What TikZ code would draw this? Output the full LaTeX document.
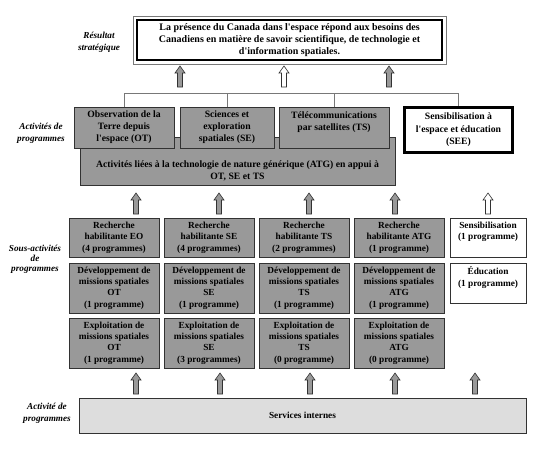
\documentclass[tikz,border=0pt]{standalone}
\usepackage{fontspec}
\setmainfont{Liberation Serif}[Ligatures=TeXOff]
\definecolor{boxgray}{RGB}{153,153,153}
\definecolor{lightbox}{RGB}{221,221,221}
\definecolor{edge}{RGB}{50,50,50}
\definecolor{linegray}{RGB}{120,120,120}
\begin{document}
\begin{tikzpicture}[x=1pt,y=-1pt,
  txt/.style={font=\bfseries\fontsize{9.3}{11.4}\selectfont, align=center},
  txtl/.style={font=\bfseries\fontsize{9.7}{12}\selectfont, align=center},
  gbox/.style={draw=edge, line width=0.7pt, fill=boxgray, inner sep=0pt, txt},
  wbox/.style={draw=edge, line width=0.7pt, fill=white, inner sep=0pt, txt},
  side/.style={font=\bfseries\itshape\fontsize{9.2}{12}\selectfont, align=center, inner sep=0pt},
  conn/.style={draw=linegray, line width=0.7pt},
  garrow/.style={draw=edge, fill=boxgray, line width=0.6pt},
  warrow/.style={draw=edge, fill=white, line width=0.6pt},
  uparrow/.pic={\path[pic actions] (-2.5,0) -- (-2.5,-14) -- (-5,-14) -- (0,-21) -- (5,-14) -- (2.5,-14) -- (2.5,0) -- cycle;}
]
\useasboundingbox (0,0) rectangle (537,456);

% ---- left-hand labels
\node[side] (lres) at (99,42) {Résultat\\stratégique};
\node[side] (lact) at (41,133) {Activités de\\programmes};
\node[side, font=\bfseries\itshape\fontsize{9.2}{9.8}\selectfont] (lsous) at (35,259) {Sous-activités\\de\\programmes};
\node[side] (lint) at (47,413) {Activité de\\programmes};

% ---- strategic outcome
\node[draw=black, line width=2pt, fill=white, minimum width=305pt, minimum height=40pt, inner sep=0pt, font=\bfseries\fontsize{10}{12}\selectfont, align=center] (top) at (289.5,40)
  {La présence du Canada dans l'espace répond aux besoins des\\Canadiens en matière de savoir scientifique, de technologie et\\d'information spatiales.};
\draw[linegray, line width=0.6pt] ([shift={(-3,3)}]top.south west) rectangle ([shift={(3,-3)}]top.north east);

% ---- arrows to outcome
\pic[garrow] at (180,87) {uparrow};
\pic[warrow] at (284,87) {uparrow};
\pic[garrow] at (389,87) {uparrow};

% ---- program activities
\node[gbox, minimum width=315pt, minimum height=48pt, label={[txtl, yshift=-10pt]center:Activités liées à la technologie de nature générique (ATG) en appui à\\OT, SE et TS}] (ATG) at (237.5,161) {};
\node[gbox, txtl, minimum width=100pt, minimum height=41pt] (OT) at (124,127.5) {Observation de la\\Terre depuis\\l'espace (OT)};
\node[gbox, txtl, minimum width=94pt, minimum height=41pt] (SE) at (227,127.5) {Sciences et\\exploration\\spatiales (SE)};
\node[gbox, minimum width=110pt, minimum height=41pt, label={[txtl, yshift=5.5pt]center:Télécommunications\\par satellites (TS)}] (TS) at (334,127.5) {};
\node[draw=black, line width=3pt, fill=white, minimum width=108pt, minimum height=45pt, inner sep=0pt, txtl, font=\bfseries\fontsize{9.7}{12.4}\selectfont] (SEE) at (458.5,130) {Sensibilisation à\\l'espace et éducation\\(SEE)};

\coordinate (bus) at (0,93);
\draw[conn] (OT.north) -- (OT.north |- bus) -- (SEE.north |- bus) -- (SEE.north);
\draw[conn] (SE.north) -- (SE.north |- bus);
\draw[conn] (TS.north) -- (TS.north |- bus);

% ---- arrows to program activities
\pic[garrow] at (136,214) {uparrow};
\pic[garrow] at (219,214) {uparrow};
\pic[garrow] at (309,214) {uparrow};
\pic[garrow] at (395,214) {uparrow};
\pic[warrow] at (488,214) {uparrow};

% ---- sub-activities, row 1
\node[gbox, minimum width=90pt, minimum height=39pt] (r1c1) at (114,237.5) {Recherche\\habilitante EO\\(4 programmes)};
\node[gbox, minimum width=90pt, minimum height=39pt] (r1c2) at (209,237.5) {Recherche\\habilitante SE\\(4 programmes)};
\node[gbox, minimum width=90pt, minimum height=39pt] (r1c3) at (304,237.5) {Recherche\\habilitante TS\\(2 programmes)};
\node[gbox, minimum width=90pt, minimum height=39pt] (r1c4) at (399,237.5) {Recherche\\habilitante ATG\\(1 programme)};
\node[wbox, minimum width=76pt, minimum height=39pt, label={[txt, yshift=5.5pt]center:Sensibilisation\\(1 programme)}] (r1w) at (488,237.5) {};

% ---- row 2
\node[gbox, minimum width=90pt, minimum height=50pt] (r2c1) at (114,288) {Développement de\\missions spatiales\\OT\\(1 programme)};
\node[gbox, minimum width=90pt, minimum height=50pt] (r2c2) at (209,288) {Développement de\\missions spatiales\\SE\\(1 programme)};
\node[gbox, minimum width=90pt, minimum height=50pt] (r2c3) at (304,288) {Développement de\\missions spatiales\\TS\\(1 programme)};
\node[gbox, minimum width=90pt, minimum height=50pt] (r2c4) at (399,288) {Développement de\\missions spatiales\\ATG\\(1 programme)};
\node[wbox, minimum width=76pt, minimum height=40pt, label={[txt, yshift=5.5pt]center:Éducation\\(1 programme)}] (r2w) at (488,283) {};

% ---- row 3
\node[gbox, minimum width=90pt, minimum height=50pt] (r3c1) at (114,343) {Exploitation de\\missions spatiales\\OT\\(1 programme)};
\node[gbox, minimum width=90pt, minimum height=50pt] (r3c2) at (209,343) {Exploitation de\\missions spatiales\\SE\\(3 programmes)};
\node[gbox, minimum width=90pt, minimum height=50pt] (r3c3) at (304,343) {Exploitation de\\missions spatiales\\TS\\(0 programme)};
\node[gbox, minimum width=90pt, minimum height=50pt] (r3c4) at (399,343) {Exploitation de\\missions spatiales\\ATG\\(0 programme)};

% ---- arrows from internal services
\pic[garrow] at (136,394) {uparrow};
\pic[garrow] at (220,394) {uparrow};
\pic[garrow] at (310,394) {uparrow};
\pic[garrow] at (395,394) {uparrow};
\pic[garrow] at (475,394) {uparrow};

% ---- internal services
\node[draw=edge, line width=0.7pt, fill=lightbox, minimum width=447pt, minimum height=35pt, inner sep=0pt, txt] (srv) at (302.5,415.5) {Services internes};
\end{tikzpicture}
\end{document}
